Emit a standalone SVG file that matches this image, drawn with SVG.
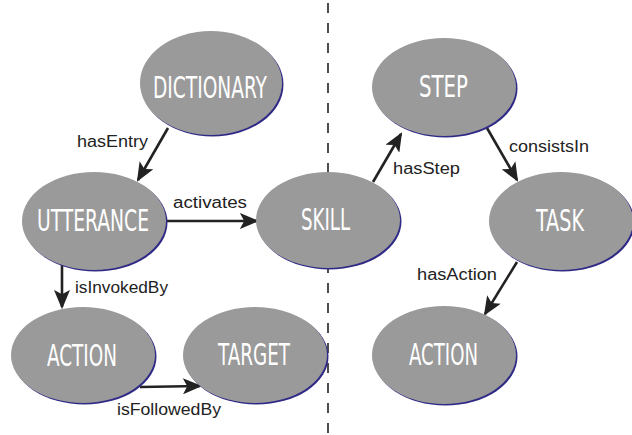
<svg xmlns="http://www.w3.org/2000/svg" width="632" height="435" viewBox="0 0 632 435">
<style>
.sh{fill:#2f2a86}
.nd{fill:#9a9a9a}
.nt{font-family:'DejaVu Sans Condensed','DejaVu Sans',sans-serif;font-size:31px;fill:#ffffff;text-anchor:middle}
.lb{font-family:'Liberation Sans',Arial,sans-serif;font-size:16px;fill:#222222}
.ed{stroke:#222222;stroke-width:2.6;fill:none;marker-end:url(#ah)}
</style>
<defs>
<marker id="ah" markerUnits="userSpaceOnUse" markerWidth="20" markerHeight="16" viewBox="0 0 18 15" refX="16" refY="7.5" orient="auto">
<path d="M0,0 L18,7.5 L0,15 L4,7.5 Z" fill="#222222"/>
</marker>
</defs>
<rect width="632" height="435" fill="#ffffff"/>
<line x1="328" y1="3" x2="328" y2="435" stroke="#222222" stroke-width="1.6" stroke-dasharray="10 10"/>
<g id="connectors">
<line class="ed" x1="168" y1="128" x2="138" y2="180"/>
<line class="ed" x1="166" y1="221" x2="257" y2="221"/>
<line class="ed" x1="62" y1="264" x2="62" y2="307"/>
<line class="ed" x1="140" y1="387" x2="200" y2="386"/>
<line class="ed" x1="373" y1="182" x2="401" y2="134"/>
<line class="ed" x1="487" y1="128" x2="517" y2="180"/>
<line class="ed" x1="517" y1="262" x2="485" y2="314"/>
<text class="lb" x="77" y="147" textLength="71" lengthAdjust="spacingAndGlyphs">hasEntry</text>
<text class="lb" x="173" y="208" textLength="74" lengthAdjust="spacingAndGlyphs">activates</text>
<text class="lb" x="75" y="293" textLength="93" lengthAdjust="spacingAndGlyphs">isInvokedBy</text>
<text class="lb" x="117" y="415" textLength="104" lengthAdjust="spacingAndGlyphs">isFollowedBy</text>
<text class="lb" x="393" y="174" textLength="67" lengthAdjust="spacingAndGlyphs">hasStep</text>
<text class="lb" x="509" y="152" textLength="80" lengthAdjust="spacingAndGlyphs">consistsIn</text>
<text class="lb" x="417" y="280" textLength="80" lengthAdjust="spacingAndGlyphs">hasAction</text>
</g>
<g id="dictionary">
<ellipse class="sh" cx="212.5" cy="84.5" rx="71" ry="52"/>
<ellipse class="nd" cx="211" cy="83" rx="71" ry="52"/>
<text class="nt" x="210" y="98" textLength="114" lengthAdjust="spacingAndGlyphs">DICTIONARY</text>
</g>
<g id="utterance">
<ellipse class="sh" cx="95.5" cy="222.5" rx="72" ry="49"/>
<ellipse class="nd" cx="94" cy="221" rx="72" ry="49"/>
<text class="nt" x="93" y="231" textLength="112" lengthAdjust="spacingAndGlyphs">UTTERANCE</text>
</g>
<g id="skill">
<ellipse class="sh" cx="329.5" cy="221.5" rx="72" ry="48"/>
<ellipse class="nd" cx="328" cy="220" rx="72" ry="48"/>
<text class="nt" x="325.5" y="230" textLength="49" lengthAdjust="spacingAndGlyphs">SKILL</text>
</g>
<g id="action-left">
<ellipse class="sh" cx="84.5" cy="356.5" rx="72" ry="48"/>
<ellipse class="nd" cx="83" cy="355" rx="72" ry="48"/>
<text class="nt" x="82" y="366" textLength="70" lengthAdjust="spacingAndGlyphs">ACTION</text>
</g>
<g id="target">
<ellipse class="sh" cx="256.5" cy="356.5" rx="72" ry="48"/>
<ellipse class="nd" cx="255" cy="355" rx="72" ry="48"/>
<text class="nt" x="254" y="365" textLength="72" lengthAdjust="spacingAndGlyphs">TARGET</text>
</g>
<g id="step">
<ellipse class="sh" cx="445.5" cy="88.5" rx="72" ry="49"/>
<ellipse class="nd" cx="444" cy="87" rx="72" ry="49"/>
<text class="nt" x="443.5" y="97" textLength="49" lengthAdjust="spacingAndGlyphs">STEP</text>
</g>
<g id="task">
<ellipse class="sh" cx="562.5" cy="222.5" rx="72" ry="49"/>
<ellipse class="nd" cx="561" cy="221" rx="72" ry="49"/>
<text class="nt" x="560" y="231" textLength="48" lengthAdjust="spacingAndGlyphs">TASK</text>
</g>
<g id="action-right">
<ellipse class="sh" cx="445.5" cy="356.5" rx="72" ry="49"/>
<ellipse class="nd" cx="444" cy="355" rx="72" ry="49"/>
<text class="nt" x="443.5" y="365" textLength="69" lengthAdjust="spacingAndGlyphs">ACTION</text>
</g>
</svg>
